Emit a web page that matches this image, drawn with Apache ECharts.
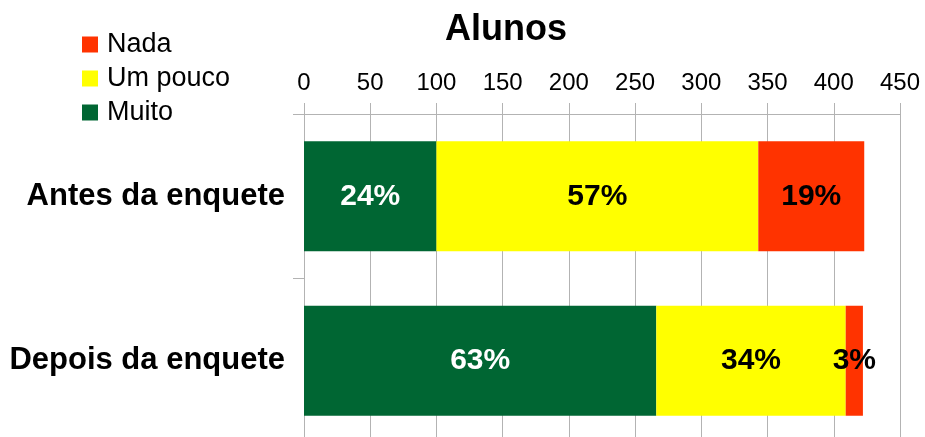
<!DOCTYPE html>
<html><head><meta charset="utf-8">
<script src="https://cdn.jsdelivr.net/npm/echarts@6/dist/echarts.min.js"></script>
<style>html,body{margin:0;padding:0;background:#fff}#c{width:925px;height:437px}</style>
</head><body><div id="c"></div>
<script>
const categories = ["Antes da enquete", "Depois da enquete"];
const muito = [100, 266];
const umPouco = [243, 143];
const nada = [80, 13];
const xTicks = [0, 50, 100, 150, 200, 250, 300, 350, 400, 450];
const seriesNames = ["Muito", "Um pouco", "Nada"];
const colors = ["#006633", "#ffff00", "#ff3300"];
const labelColors = ["#ffffff", "#000000", "#000000"];

const totals = categories.map((_, i) => muito[i] + umPouco[i] + nada[i]);
const values = [muito, umPouco, nada];

const chart = echarts.init(document.getElementById('c'), null, {renderer: 'canvas'});
chart.setOption({
  animation: false,
  backgroundColor: '#ffffff',
  textStyle: {fontFamily: 'Liberation Sans'},
  title: {
    text: 'Alunos', left: 440, top: 7,
    textStyle: {fontSize: 36, fontWeight: 'bold', color: '#000', fontFamily: 'Liberation Sans'}
  },
  legend: {
    orient: 'vertical', left: 77, top: 26,
    data: ['Nada', 'Um pouco', 'Muito'],
    itemWidth: 16, itemHeight: 16, itemGap: 7,
    icon: 'rect',
    textStyle: {fontSize: 27, color: '#000', fontFamily: 'Liberation Sans', padding: [0,0,0,4]}
  },
  grid: {left: 304, right: 25, top: 114, height: 329, containLabel: false, outerBoundsMode: 'none'},
  xAxis: {
    type: 'value', position: 'top', min: 0, max: 450, interval: 50,
    axisLine: {show: true, lineStyle: {color: '#b3b3b3'}},
    axisTick: {show: true, length: 11, lineStyle: {color: '#b3b3b3'}},
    splitLine: {show: true, lineStyle: {color: '#b3b3b3'}},
    axisLabel: {fontSize: 24, color: '#000', margin: 19, fontFamily: 'Liberation Sans',
      formatter: v => xTicks.includes(v) ? String(v) : ''}
  },
  yAxis: {
    type: 'category', inverse: true, data: categories,
    axisLine: {show: true, lineStyle: {color: '#b3b3b3'}},
    axisTick: {show: true, length: 11, lineStyle: {color: '#b3b3b3'}},
    axisLabel: {fontSize: 31, fontWeight: 'bold', color: '#000', margin: 19, fontFamily: 'Liberation Sans'}
  },
  series: seriesNames.map((name, s) => ({
    name, type: 'bar', stack: 'total', barCategoryGap: '33%',
    itemStyle: {color: colors[s]},
    label: {
      show: true, position: 'inside', fontSize: 30, fontWeight: 'bold',
      color: labelColors[s], fontFamily: 'Liberation Sans',
      formatter: p => Math.round(p.value / totals[p.dataIndex] * 100) + '%'
    },
    data: values[s]
  }))
});
</script>
</body></html>
